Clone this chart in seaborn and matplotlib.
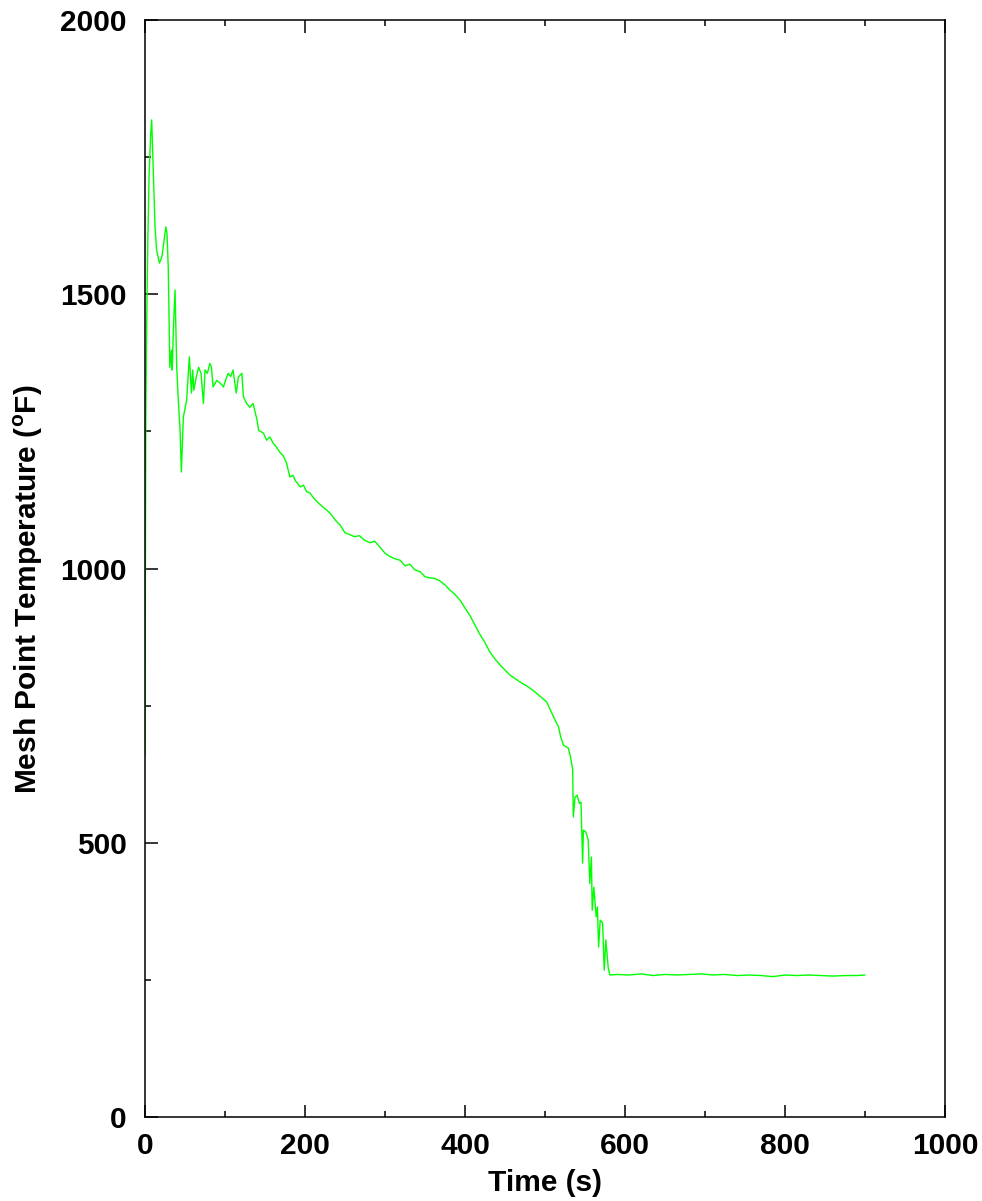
import pandas as pd
import matplotlib
matplotlib.use('Agg')
import matplotlib.pyplot as plt
import seaborn as sns
from matplotlib.ticker import MultipleLocator

# --- data ---
time_s = [0, 0.5, 1, 2, 3.5, 5, 7, 8.3, 9.5, 10.4, 12.5, 14.5, 18, 21, 24, 26, 27.5,
          29, 31, 33, 34, 35.5, 37.5, 39.6, 41.6, 43.8, 45.4, 47.9, 52, 55.4, 58,
          59.6, 61, 64, 67, 70, 73, 75, 78, 81, 83, 85, 89.6, 94, 98, 101, 104,
          107, 110, 114, 116.6, 121, 123, 127, 131, 135, 140, 142, 148, 152, 156,
          160, 164, 169, 173, 177, 181, 185, 188, 194, 198, 202, 206, 210,
          215, 220, 226, 232, 238, 244, 250, 256, 262, 268, 274, 281, 287, 293,
          300, 306, 312, 319, 325, 331, 337, 344, 350, 356, 362, 368, 375, 381,
          388, 394, 400, 406, 412, 419, 425, 431, 437, 444, 450, 456, 462, 469,
          477, 485, 493, 502, 508, 512.5, 517, 519.6, 523, 529, 532, 534.6, 535.4,
          537.5, 540, 543, 545, 547, 548, 551, 554, 556, 558, 559, 561, 564, 565.5,
          567, 569, 572, 574, 576, 579, 581, 590, 605, 620, 635, 650, 665, 680,
          695, 710, 725, 740, 755, 770, 785, 800, 815, 830, 845, 860, 875, 890, 900]
temp_f = [660, 1030, 1283, 1440, 1599, 1714, 1790, 1818, 1760, 1721, 1623, 1580,
          1557, 1568, 1600, 1623, 1610, 1550, 1367, 1398, 1362, 1440, 1508, 1367,
          1307, 1252, 1176, 1276, 1307, 1386, 1320, 1362, 1325, 1349, 1367, 1356,
          1301, 1362, 1356, 1374, 1367, 1331, 1343, 1338, 1331, 1345, 1356, 1350,
          1362, 1320, 1349, 1356, 1313, 1301, 1294, 1301, 1271, 1252, 1247, 1234,
          1240, 1229, 1222, 1211, 1205, 1192, 1167, 1170, 1160, 1149, 1152, 1140,
          1138, 1130,
          1122, 1115, 1108, 1100, 1088, 1079, 1065, 1062, 1058, 1060, 1052, 1047,
          1050, 1040, 1028, 1022, 1018, 1015, 1005, 1008, 998, 994, 985, 983, 982,
          978, 970, 961, 952, 942, 928, 915, 898, 879, 865, 848, 836, 824, 815,
          806, 800, 793, 786, 778, 768, 757, 738, 724, 711, 693, 678, 673, 656,
          633, 547, 583, 587, 572, 574, 463, 523, 520, 505, 426, 474, 377, 419,
          365, 383, 310, 359, 354, 268, 323, 273, 259, 260, 259, 261, 258, 260,
          259, 260, 261, 259, 260, 258, 259, 258, 256, 259, 258, 259, 258, 257,
          258, 258, 259]

df = pd.DataFrame({'Time': time_s, 'Temp': temp_f})

sns.set_style('ticks')
plt.rcParams['font.family'] = ['Liberation Sans', 'DejaVu Sans']
plt.rcParams['font.weight'] = 'bold'
plt.rcParams['text.color'] = 'black'
plt.rcParams['axes.labelcolor'] = 'black'
plt.rcParams['xtick.color'] = 'black'
plt.rcParams['ytick.color'] = 'black'
plt.rcParams['mathtext.fontset'] = 'custom'
plt.rcParams['mathtext.rm'] = 'Liberation Sans:bold'

fig = plt.figure(figsize=(9.82, 12.01), dpi=100)
ax = fig.add_axes([0.1477, 0.0699, 0.8146, 0.9134])

sns.lineplot(data=df, x='Time', y='Temp', ax=ax, color='#00ff00', linewidth=1.0,
             sort=False, estimator=None)

ax.set_xlim(0, 1000)
ax.set_ylim(0, 2000)
ax.xaxis.set_major_locator(MultipleLocator(200))
ax.xaxis.set_minor_locator(MultipleLocator(100))
ax.yaxis.set_major_locator(MultipleLocator(500))
ax.yaxis.set_minor_locator(MultipleLocator(250))
ax.tick_params(which='both', direction='in', top=True, right=False, width=1.1,
               color='black', labelcolor='black')
ax.tick_params(which='major', length=9)
ax.tick_params(which='minor', length=4)
ax.tick_params(axis='x', which='major', labelsize=21.5, pad=11)
ax.tick_params(axis='y', which='major', labelsize=21.5, pad=13)
for lab in ax.get_xticklabels() + ax.get_yticklabels():
    lab.set_fontweight('bold')
for sp in ax.spines.values():
    sp.set_linewidth(1.1)
    sp.set_color('black')

ax.set_xlabel('Time (s)', fontsize=21.5, fontweight='bold', color='black')
ax.set_ylabel(r'Mesh Point Temperature ($^{\rm o}$F)', fontsize=21.5,
              fontweight='bold', color='black')
ax.xaxis.set_label_coords(0.5, -0.060)
ax.yaxis.set_label_coords(-0.146, 0.481)
ax.xaxis.label.set_va('center')
ax.yaxis.label.set_va('center')

fig.savefig('out.png', dpi=100)
